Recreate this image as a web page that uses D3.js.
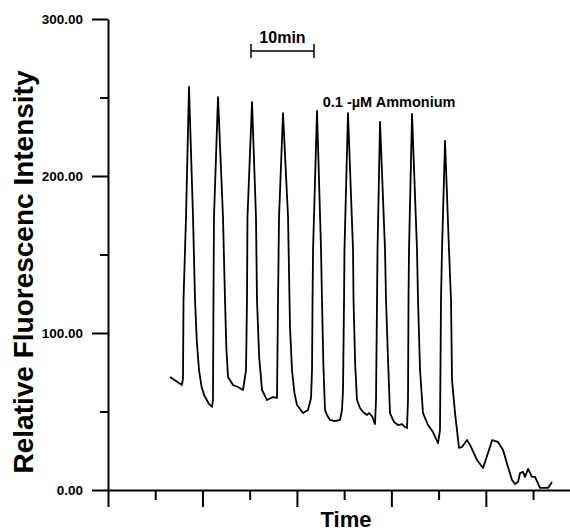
<!DOCTYPE html>
<html>
<head>
<meta charset="utf-8">
<script src="https://cdn.jsdelivr.net/npm/d3@7"></script>
<style>
  body { margin: 0; background: #fff; }
  svg { display: block; font-family: "Liberation Sans", Arial, sans-serif; }
</style>
</head>
<body>
<div id="chart"></div>
<script>
const width = 570, height = 531

// time in minutes, relative fluorescence intensity
const time = [
  9.85, 11.75, 11.91, 11.99, 12.39, 12.86, 13.50, 13.82, 14.10, 14.45, 14.85, 15.25, 16.04, 16.52, 16.67, 16.75, 16.83,
  17.47, 18.26, 18.58, 18.80, 19.06, 19.85, 20.64, 21.44, 21.92, 22.07, 22.15,
  22.87, 23.50, 23.66, 24.00, 24.46, 25.25, 26.20, 26.84, 27.00, 27.16,
  27.79, 28.59, 28.90, 29.22, 29.60, 30.01, 30.97, 31.76, 32.24, 32.40, 32.48, 32.56,
  33.19, 33.83, 33.98, 34.20, 34.46, 34.78, 35.25, 36.05, 36.84, 37.16, 37.32, 37.48, 37.55,
  38.11, 38.91, 38.99, 39.25, 39.54, 40.02, 40.50, 41.13, 41.45, 41.92, 42.40, 42.56, 42.72, 42.80,
  43.20, 43.99, 44.15, 44.47, 44.78, 45.42, 46.05, 46.69, 47.17, 47.48, 47.64, 47.72, 47.80,
  48.28, 49.07, 49.23, 49.55, 50.02, 50.82, 51.61, 52.41, 52.72, 52.88, 53.04,
  53.52, 54.15, 54.47, 54.63, 55.11, 55.74, 56.22, 57.01, 57.49, 58.60, 59.55, 60.50, 61.00,
  61.93, 62.73, 63.52, 64.16, 64.63, 65.11, 65.43, 65.90, 66.22, 66.70, 67.33, 67.81, 68.60, 69.87, 70.51
]
const intensity = [
  72.0, 66.9, 71.3, 121.0, 173.9, 256.7, 173.9, 121.0, 95.0, 76.4, 66.0, 60.5, 54.8, 52.9, 57.3, 121.0, 173.9,
  250.3, 173.9, 121.0, 90.0, 72.0, 66.9, 65.6, 63.7, 76.4, 121.0, 173.9,
  247.1, 173.9, 121.0, 85.0, 63.7, 57.3, 59.2, 58.6, 121.0, 173.9,
  240.1, 173.9, 103.8, 76.4, 62.0, 54.1, 49.0, 51.0, 58.6, 76.4, 121.0, 152.9,
  241.4, 152.9, 121.0, 80.0, 51.0, 47.8, 44.6, 43.9, 44.6, 51.0, 63.7, 121.0, 152.9,
  240.1, 152.9, 121.0, 80.0, 57.3, 52.2, 49.7, 47.8, 49.0, 47.1, 42.0, 57.3, 121.0, 152.9,
  234.4, 152.9, 121.0, 82.8, 49.0, 43.3, 41.4, 42.0, 40.1, 39.5, 57.3, 121.0, 152.9,
  239.5, 152.9, 121.0, 76.4, 49.0, 41.4, 36.9, 29.9, 38.2, 121.0, 152.9,
  222.3, 152.9, 121.0, 70.1, 49.0, 26.8, 27.4, 31.8, 28.7, 19.1, 14.0, 25.5, 31.8,
  30.6, 25.5, 14.6, 6.4, 3.8, 5.1, 10.8, 11.5, 8.3, 13.4, 8.3, 8.3, 1.3, 1.3, 5.1
]

const yMajor = [0, 100, 200, 300]
const yMinor = [50, 150, 250]
const xMajor = [0, 15, 30, 45, 60]
const xMinor = [7.5, 22.5, 37.5, 52.5, 67.5]
const scaleBar = [22.71, 32.71] // 10 min

const svg = d3.select('#chart')
  .append('svg')
  .attr('width', width)
  .attr('height', height)

const x = d3.scaleLinear().domain([0, 74]).range([108, 574])
const y = d3.scaleLinear().domain([0, 300]).range([490, 19])

const styleAxis = g => {
  g.selectAll('path, line').attr('stroke', '#000').attr('stroke-width', 2)
  g.selectAll('text')
    .attr('fill', '#000')
    .attr('font-size', 13.5)
    .attr('font-weight', 'bold')
    .attr('font-family', '"Liberation Sans", Arial, sans-serif')
}

// y axis
svg.append('g')
  .attr('transform', `translate(${x(0)},0)`)
  .call(d3.axisLeft(y).tickValues(yMajor).tickSize(16).tickSizeOuter(0)
    .tickPadding(9).tickFormat(d3.format('.2f')))
  .call(styleAxis)

svg.append('g')
  .attr('transform', `translate(${x(0)},0)`)
  .call(d3.axisLeft(y).tickValues(yMinor).tickSize(8).tickSizeOuter(0).tickFormat(''))
  .call(styleAxis)
  .call(g => g.select('.domain').remove())

// x axis
svg.append('g')
  .attr('transform', `translate(0,${y(0)})`)
  .call(d3.axisBottom(x).tickValues(xMajor).tickSize(17).tickSizeOuter(0).tickFormat(''))
  .call(styleAxis)

svg.append('g')
  .attr('transform', `translate(0,${y(0)})`)
  .call(d3.axisBottom(x).tickValues(xMinor).tickSize(10).tickSizeOuter(0).tickFormat(''))
  .call(styleAxis)
  .call(g => g.select('.domain').remove())

// trace
const points = time.map((t, i) => [t, intensity[i]])
const line = d3.line()
  .x(d => x(d[0]))
  .y(d => y(d[1]))

svg.append('path')
  .datum(points)
  .attr('fill', 'none')
  .attr('stroke', '#000')
  .attr('stroke-width', 1.8)
  .attr('stroke-linejoin', 'round')
  .attr('d', line)

// scale bar
const barY = y(279.6)
svg.append('line')
  .attr('x1', x(scaleBar[0])).attr('x2', x(scaleBar[1]))
  .attr('y1', barY).attr('y2', barY)
  .attr('stroke', '#000').attr('stroke-width', 1.5)
svg.selectAll('.bar-end')
  .data(scaleBar)
  .join('line')
  .attr('x1', d => x(d)).attr('x2', d => x(d))
  .attr('y1', barY - 7).attr('y2', barY + 7)
  .attr('stroke', '#000').attr('stroke-width', 1.5)
svg.append('text')
  .attr('x', (x(scaleBar[0]) + x(scaleBar[1])) / 2)
  .attr('y', barY - 8)
  .attr('text-anchor', 'middle')
  .attr('font-size', 16)
  .attr('font-weight', 'bold')
  .text('10min')

svg.append('text')
  .attr('x', x(34.1))
  .attr('y', y(244))
  .attr('font-size', 14.5)
  .attr('font-weight', 'bold')
  .text('0.1 -\u00b5M Ammonium')

// axis titles
svg.append('text')
  .attr('x', 346)
  .attr('y', 527)
  .attr('text-anchor', 'middle')
  .attr('font-size', 22)
  .attr('font-weight', 'bold')
  .text('Time')

svg.append('text')
  .attr('transform', 'translate(33,272) rotate(-90)')
  .attr('text-anchor', 'middle')
  .attr('font-size', 28)
  .attr('font-weight', 'bold')
  .text('Relative Fluorescenc Intensity')
</script>
</body>
</html>
